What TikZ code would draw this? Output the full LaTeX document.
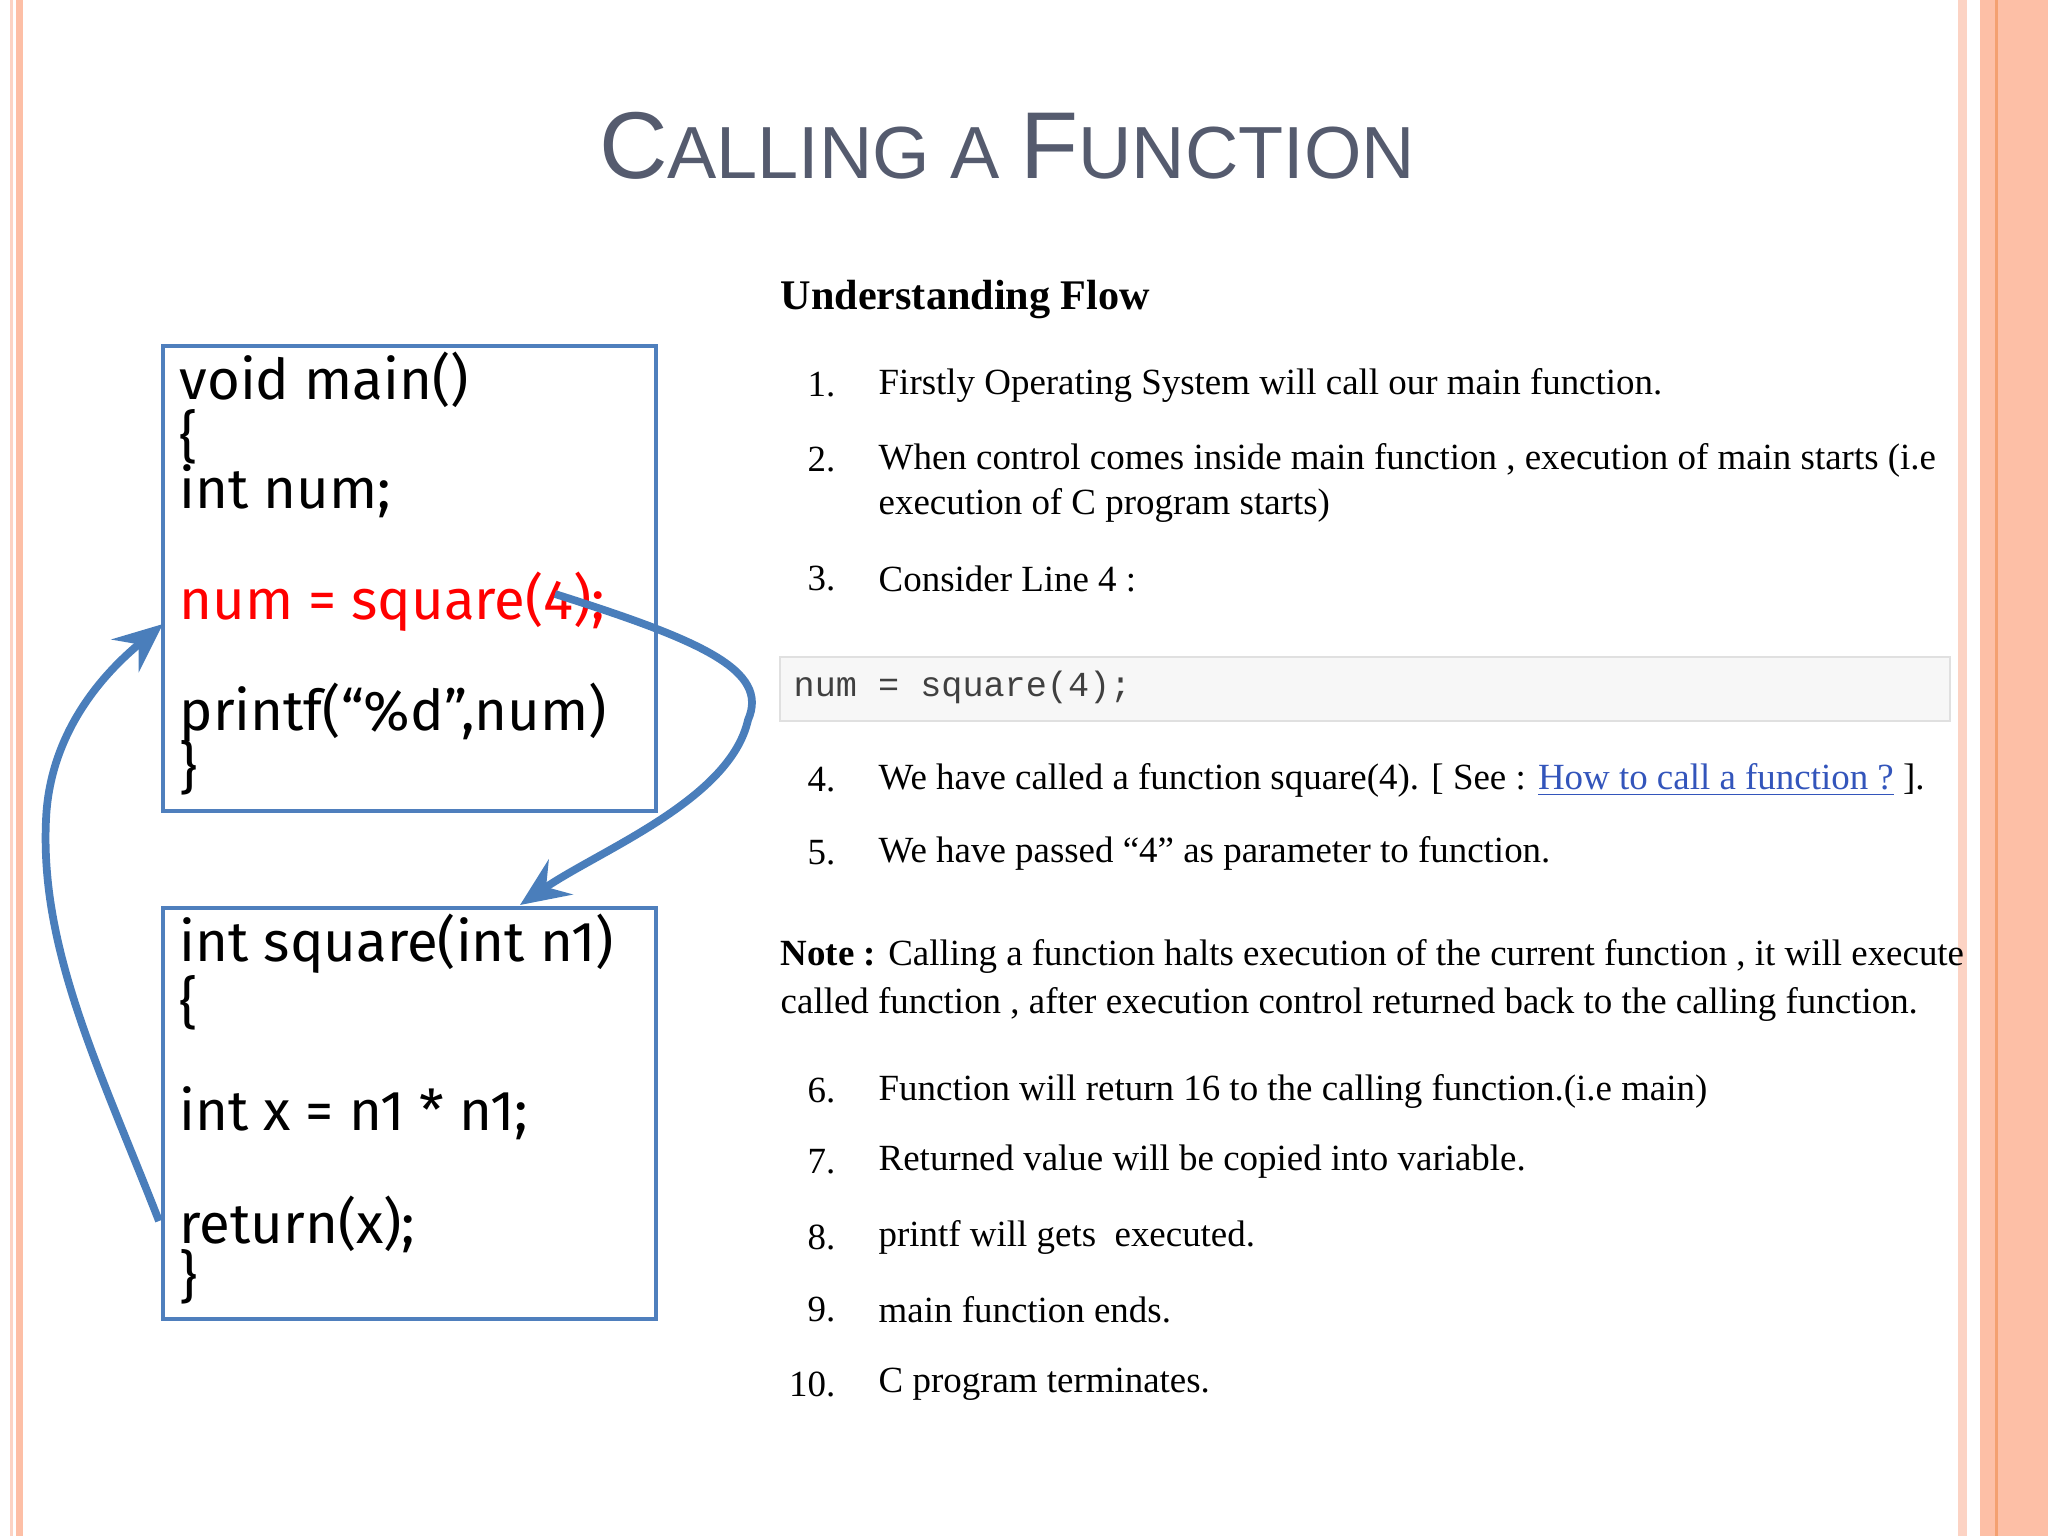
\documentclass[tikz,border=0pt]{standalone}
\usepackage{fontspec}
\setmainfont{Liberation Serif}
\newfontfamily\codefont{Fira Sans}
\newfontfamily\titlefont{Liberation Sans}
\setmonofont{Liberation Mono}
\definecolor{salmon}{HTML}{FDBFA6}
\definecolor{salmonlt}{HTML}{FCD3C4}
\definecolor{orng}{HTML}{F4A070}
\definecolor{boxblue}{HTML}{4F7FBD}
\definecolor{arrblue}{HTML}{4A7EBB}
\definecolor{titlegray}{HTML}{555B6E}
\definecolor{linkblue}{HTML}{3355BB}
\usetikzlibrary{arrows.meta}
\begin{document}
\begin{tikzpicture}[x=0.01cm,y=-0.01cm,
  codebox/.style={draw=boxblue,line width=1.2pt},
  codeline/.style={anchor=west,inner sep=0pt,font=\codefont\fontsize{16}{18}\selectfont},
  num/.style={anchor=east,inner sep=0pt,font=\fontsize{10.5}{12}\selectfont},
  txt/.style={anchor=west,inner sep=0pt,font=\fontsize{10.5}{12}\selectfont},
  flow/.style={draw=arrblue,line width=2.2pt,-{Stealth[length=14pt,width=12pt,inset=5pt]}}]
\useasboundingbox (0,0) rectangle (2048,1536);
% borders
\fill[salmonlt] (10,0) rectangle (13,1536);
\fill[salmon] (16,0) rectangle (23,1536);
\fill[salmonlt] (1958,0) rectangle (1967,1536);
\fill[salmon] (1980,0) rectangle (2048,1536);
\fill[orng] (1995,0) rectangle (1998,1536);
% title
\node[inner sep=0pt,text=titlegray] (title) at (1007,146)
 {\titlefont\fontsize{27}{30}\selectfont C{\fontsize{21}{24}\selectfont ALLING A }F{\fontsize{21}{24}\selectfont UNCTION}};
% code boxes
\draw[codebox] (163,346) rectangle (656,811);
\node (b1) at (409,578) {};
\draw[codebox] (163,908) rectangle (656,1319);
\node (b2) at (409,1113) {};
\node[codeline] (l1) at (179,380) {void main()};
\node[codeline] (l2) at (179,437) {\{};
\node[codeline] (l3) at (179,491) {int num;};
\node[codeline,text=red] (l4) at (179,602) {num = square(4);};
\node[codeline] (l5) at (179,713) {printf(“\%d”,num)};
\node[codeline] (l6) at (179,768) {\}};
\node[codeline] (m1) at (179,944) {int square(int n1)};
\node[codeline] (m2) at (179,1003) {\{};
\node[codeline] (m3) at (179,1113) {int x = n1 * n1;};
\node[codeline] (m4) at (179,1224) {return(x);};
\node[codeline] (m5) at (179,1277) {\}};
% arrows
\coordinate (a1s) at (555,594);
\coordinate (a1m) at (748,720);
\coordinate (a1e) at (520,905);
\draw[flow] (a1s) .. controls (700,640) and (770,670) .. (a1m) .. controls (730,800) and (600,850) .. (a1e);
\coordinate (a2s) at (159,1221);
\coordinate (a2m) at (46,820);
\coordinate (a2e) at (163,624);
\draw[flow] (a2s) .. controls (100,1070) and (40,950) .. (a2m) .. controls (50,720) and (120,660) .. (a2e);
% right text
\node[anchor=west,inner sep=0pt,font=\bfseries\fontsize{12}{14}\selectfont] (head) at (780,300) {Understanding Flow};
\node[num] (n1) at (836,385) {1.};
\node[txt] (t1) at (878,385) {Firstly Operating System will call our main function.};
\node[num] (n2) at (836,460) {2.};
\node[txt] (t2) at (878,460) {When control comes inside main function , execution of main starts (i.e};
\node[txt] (t2b) at (878,505) {execution of C program starts)};
\node[num] (n3) at (836,579) {3.};
\node[txt] (t3) at (878,579) {Consider Line 4 :};
\draw[draw=black!12,fill=black!3] (780,657) rectangle (1950,721);
\node[anchor=west,inner sep=0pt,font=\ttfamily\fontsize{10}{12}\selectfont,text=black!75] (code) at (793,687) {num = square(4);};
\node[num] (n4) at (836,780) {4.};
\node[txt] (t4) at (878,780) {We have called a function square(4). [ See : \textcolor{linkblue}{\underline{How to call a function ?}} ].};
\node[num] (n5) at (836,853) {5.};
\node[txt] (t5) at (878,853) {We have passed “4” as parameter to function.};
\node[txt] (note1) at (780,956) {\textbf{Note :} Calling a function halts execution of the current function , it will execute};
\node[txt] (note2) at (780,1004) {called function , after execution control returned back to the calling function.};
\node[num] (n6) at (836,1091) {6.};
\node[txt] (t6) at (878,1091) {Function will return 16 to the calling function.(i.e main)};
\node[num] (n7) at (836,1162) {7.};
\node[txt] (t7) at (878,1162) {Returned value will be copied into variable.};
\node[num] (n8) at (836,1237) {8.};
\node[txt] (t8) at (878,1237) {printf will gets\ \ executed.};
\node[num] (n9) at (836,1310) {9.};
\node[txt] (t9) at (878,1310) {main function ends.};
\node[num] (n10) at (836,1384) {10.};
\node[txt] (t10) at (878,1384) {C program terminates.};
\end{tikzpicture}
\end{document}
